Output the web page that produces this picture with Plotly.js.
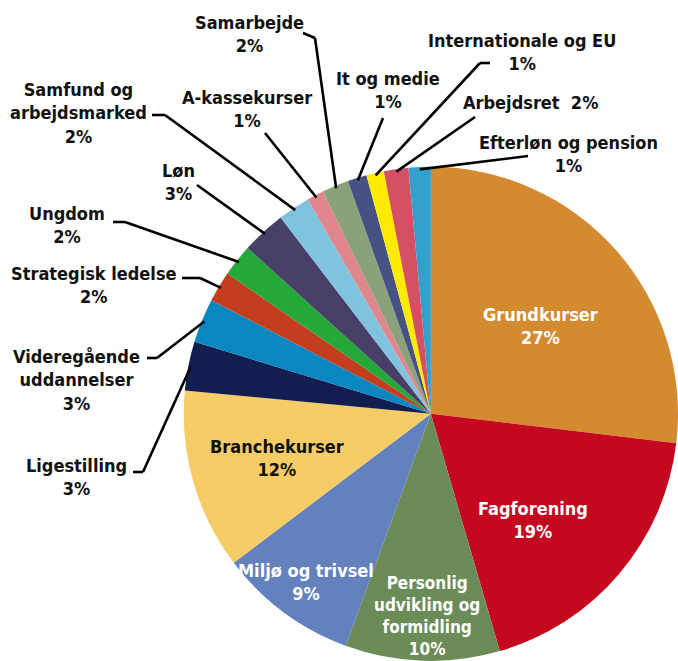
<!DOCTYPE html>
<html>
<head>
<meta charset="utf-8">
<script src="https://cdn.plot.ly/plotly-3.0.1.min.js"></script>
<style>
html,body{margin:0;padding:0;background:#fff;}
</style>
</head>
<body>
<div id="chart" style="width:678px;height:661px;"></div>
<script>
// ---- data ----
const categories = ["Grundkurser","Fagforening","Personlig udvikling og formidling","Miljø og trivsel","Branchekurser","Ligestilling","Videregående uddannelser","Strategisk ledelse","Ungdom","Løn","Samfund og arbejdsmarked","A-kassekurser","Samarbejde","It og medie","Internationale og EU","Arbejdsret","Efterløn og pension"];
const values = [26.9,18.6,10.1,9.1,11.8,3.2,2.9,2.0,2.1,2.9,2.1,1.1,1.75,1.25,1.15,1.6,1.45];
const labelText = ["Grundkurser","Fagforening","Personlig<br>udvikling og<br>formidling","Miljø og trivsel","Branchekurser","Ligestilling","Videregående<br>uddannelser","Strategisk ledelse","Ungdom","Løn","Samfund og<br>arbejdsmarked","A-kassekurser","Samarbejde","It og medie","Internationale og EU","Arbejdsret","Efterløn og pension"];

// ---- styles / layout ----
const colors = ["#D48A2F","#C4081F","#6B8C57","#6281BD","#F5CC65","#121E50","#0A86C0","#C23E1E","#25A83A","#483F68","#80C3DF","#E0868F","#8BA17B","#465382","#FFEB00","#D45062","#33A0CC"];
const W = 678, H = 661;
const dom = {x:[0.271,1], y:[0,0.748]};
const labelPos = [
  {p:[540,326], c:"#fff"},
  {p:[533,520], c:"#fff"},
  {p:[427,616], c:"#fff", size:17},
  {p:[306,582], c:"#fff"},
  {p:[277,458], c:"#111"},
  {p:[76,477], c:"#111", lead:[[133,472],[143,472]]},
  {p:[76,380], c:"#111", lead:[[147,358],[157,358]]},
  {p:[94,285], c:"#111", lead:[[182,278],[200,278]]},
  {p:[67,225], c:"#111", lead:[[113,222],[125,222]]},
  {p:[178,182], c:"#111", lead:[[197,185]]},
  {p:[78,113], c:"#111", lead:[[152,115],[165,115]]},
  {p:[247,109], c:"#111", lead:[[265,133]]},
  {p:[249,34], c:"#111", lead:[[303,33],[315,38]]},
  {p:[388,90], c:"#111", lead:[[383,118]]},
  {p:[522,52], c:"#111", lead:[[490,63],[480,63]]},
  {p:[530,103], c:"#111", lead:[[475,117]], inline:true},
  {p:[568,154], c:"#111", lead:[[528,156]]}
];
const fontFam = "'DejaVu Sans Condensed', 'Liberation Sans Narrow', sans-serif";

const px2x = v => v / W;
const py2y = v => 1 - v / H;

const total = values.reduce((a,b)=>a+b,0);
const R = Math.min((dom.x[1]-dom.x[0])*W, (dom.y[1]-dom.y[0])*H)/2;
const cx = dom.x[0]*W + (dom.x[1]-dom.x[0])*W/2;
const cy = H - (dom.y[0]*H + (dom.y[1]-dom.y[0])*H/2);

const annotations = [];
const shapes = [];
let cum = 0;
values.forEach((v,i)=>{
  const pct = Math.round(v/total*100) + "%";
  const L = labelPos[i];
  const txt = labelText[i] + (L.inline ? "  " : "<br>") + pct;
  annotations.push({
    xref:"paper", yref:"paper", x:px2x(L.p[0]), y:py2y(L.p[1]),
    xanchor:"center", yanchor:"middle", showarrow:false, align:"center",
    text:txt,
    font:{family:fontFam, size:L.size||18, color:L.c, weight:700}
  });
  const mid = (cum + v/2)/total * 2*Math.PI;
  cum += v;
  if (L.lead){
    const ex = cx + 0.99*R*Math.sin(mid);
    const ey = cy - 0.99*R*Math.cos(mid);
    const pts = L.lead.concat([[ex,ey]]);
    for (let k=0;k<pts.length-1;k++){
      shapes.push({type:"line", xref:"paper", yref:"paper",
        x0:px2x(pts[k][0]), y0:py2y(pts[k][1]), x1:px2x(pts[k+1][0]), y1:py2y(pts[k+1][1]),
        line:{color:"#000", width:2.6}});
    }
  }
});

const trace = {
  type:"pie", labels:categories, values:values, sort:false, direction:"clockwise", rotation:0,
  marker:{colors:colors, line:{width:0}}, textinfo:"none", hoverinfo:"label+percent",
  domain:dom
};

Plotly.newPlot("chart",[trace],{
  width:W, height:H, margin:{l:0,r:0,t:0,b:0}, showlegend:false,
  paper_bgcolor:"#fff", annotations:annotations, shapes:shapes
},{displayModeBar:false, staticPlot:true});
</script>
</body>
</html>
